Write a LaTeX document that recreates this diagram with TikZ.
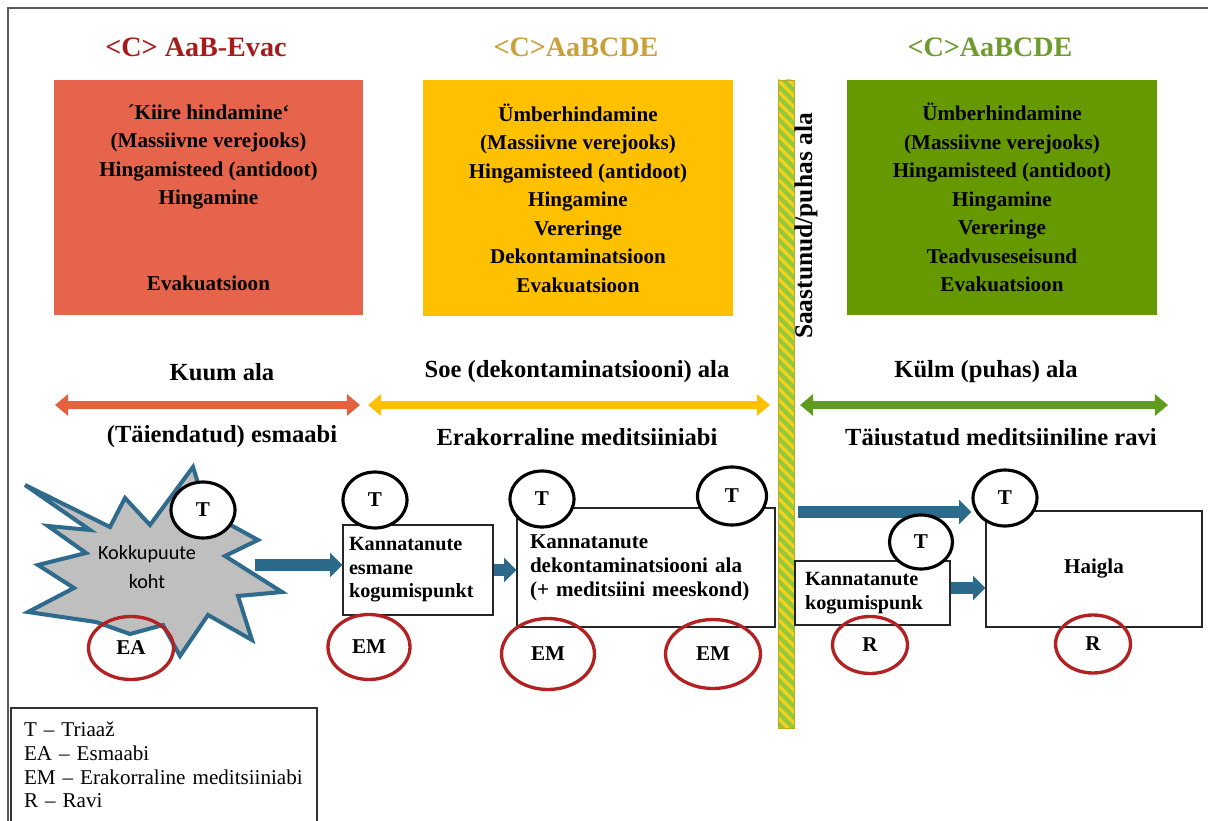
\documentclass[tikz,border=0pt]{standalone}
\usepackage{fontspec}
\setmainfont{Liberation Serif}
\newfontfamily\calibrikiri{Carlito}
\usetikzlibrary{arrows.meta,shapes.geometric,calc}

\definecolor{kuumkast}{HTML}{E6644B}
\definecolor{soekast}{HTML}{FFC000}
\definecolor{kulmkast}{HTML}{669900}
\definecolor{pealkpun}{HTML}{A61C1C}
\definecolor{pealkkol}{HTML}{C9A03A}
\definecolor{pealkroh}{HTML}{6E9B2E}
\definecolor{noolpun}{HTML}{E5603F}
\definecolor{noolroh}{HTML}{5E9B1E}
\definecolor{sinine}{HTML}{2B6A8A}
\definecolor{hall}{HTML}{BFBFBF}
\definecolor{plahvjoon}{HTML}{2F6B8C}
\definecolor{tumepun}{HTML}{B22222}
\definecolor{ribaroh}{HTML}{92C83E}
\definecolor{ribakol}{HTML}{F2D21B}

\begin{document}
\begin{tikzpicture}[x=0.02cm,y=-0.02cm,
pealk/.style ={font=\fontsize{16}{19}\selectfont\bfseries},
kast/.style ={rectangle, minimum width=6.2cm, minimum height=4.72cm, inner sep=0pt, align=center, font=\fontsize{12}{16.2}\selectfont\bfseries},
zona/.style ={font=\fontsize{14}{17}\selectfont\bfseries},
zoonnool/.style ={line width=5pt, {Triangle[width=12pt,length=7.5pt]}-{Triangle[width=12pt,length=7.5pt]}},
punkt/.style ={rectangle, draw=black!85, line width=0.8pt, fill=white, align=left, font=\fontsize{12}{13.6}\selectfont\bfseries},
triaaz/.style ={ellipse, draw=black, line width=1.8pt, fill=white, minimum width=1.28cm, minimum height=1.12cm, inner sep=0pt, font=\fontsize{12}{14}\selectfont\bfseries},
abi/.style ={ellipse, draw=tumepun, line width=1.9pt, inner sep=0pt, font=\fontsize{12}{14}\selectfont\bfseries},
vool/.style ={sinine, line width=6.8pt, -{Triangle[width=13.6pt,length=7pt]}},
legend/.style ={rectangle, draw=black!80, line width=0.8pt, minimum height=2.28cm, text width=5.6cm, inner xsep=0.26cm, align=left, font=\fontsize{12}{13.4}\selectfont}
]
\useasboundingbox (0,0) rectangle (1208,821);
\draw[black!65, line width=1.2pt] (8,821) -- (8,8) -- (1208,8);

% pealkirjad ja kastid
\draw (196,47) node[pealk, text=pealkpun] (p1) {<C> AaB-Evac};
\draw (576,47) node[pealk, text=pealkkol] (p2) {<C>AaBCDE};
\draw (990,47) node[pealk, text=pealkroh] (p3) {<C>AaBCDE};

\draw (208.5,197.5) node[kast, fill=kuumkast] (K1) {´Kiire hindamine\symbol{96}\\(Massiivne verejooks)\\Hingamisteed (antidoot)\\Hingamine\\ ~\\ ~\\Evakuatsioon};
\draw (578,198) node[kast, fill=soekast] (K2) {Ümberhindamine\\(Massiivne verejooks)\\Hingamisteed (antidoot)\\Hingamine\\Vereringe\\Dekontaminatsioon\\Evakuatsioon};
\draw (1002,197.5) node[kast, fill=kulmkast] (K3) {Ümberhindamine\\(Massiivne verejooks)\\Hingamisteed (antidoot)\\Hingamine\\Vereringe\\Teadvuseseisund\\Evakuatsioon};

% eraldusriba
\begin{scope}
\clip (778,80) rectangle (794,728);
\fill[ribaroh] (778,80) rectangle (794,728);
\foreach \y in {50,61,...,740}
  \draw[ribakol, line width=2pt] (770,\y) -- (802,\y+32);
\end{scope}
\draw[ribakol!80!black, line width=0.4pt] (778,80) rectangle (794,728);
\draw (806,226) node[zona, rotate=90, font=\fontsize{14.5}{17}\selectfont\bfseries] (riba) {Saastunud/puhas ala};

% alad
\draw (222,372) node[zona] (a1) {Kuum ala};
\draw (577,372) node[zona] (a2) {Soe (dekontaminatsiooni) ala};
\draw (986,372) node[zona] (a3) {Külm (puhas) ala};
\coordinate (a1L) at (55,405);  \coordinate (a1R) at (360,405);
\coordinate (a2L) at (368,405); \coordinate (a2R) at (770,405);
\coordinate (a3L) at (800,405); \coordinate (a3R) at (1168,405);
\draw[zoonnool, noolpun] (a1L)--(a1R);
\draw[zoonnool, soekast] (a2L)--(a2R);
\draw[zoonnool, noolroh] (a3L)--(a3R);
\draw (222,437) node[zona] (b1) {(Täiendatud) esmaabi};
\draw (577,437) node[zona] (b2) {Erakorraline meditsiiniabi};
\draw (1001,437) node[zona] (b3) {Täiustatud meditsiiniline ravi};

% kokkupuute koht
\draw[fill=hall, draw=plahvjoon, line width=2.3pt] (25,485) -- (110,527) -- (125,498) -- (150,525) -- (193,467) -- (207,512) -- (258,540) -- (225,556) -- (282,592) -- (238,596) -- (252,640) -- (208,615) -- (180,656) -- (163,625) -- (130,634) -- (96,622) -- (28,612) -- (74,588) -- (38,565) -- (86,553) -- (48,526) -- (90,530) -- cycle;
\draw (147,567) node[font=\calibrikiri\fontsize{11.5}{16.5}\selectfont, align=center, text=black] (koht) {Kokkupuute\\koht};
\coordinate (kohtE) at (255,565);

% punktid
\draw (418,570) node[punkt, minimum width=3cm, minimum height=1.8cm, text width=2.76cm, inner xsep=0.12cm, font=\fontsize{11.5}{13.4}\selectfont\bfseries] (kog1) {Kannatanute\\esmane\\kogumispunkt};
\draw (646,567.5) node[punkt, minimum height=2.38cm, text width=4.64cm, inner xsep=0.26cm] (dekon) {Kannatanute\\dekontaminatsiooni ala\\(+ meditsiini meeskond)};
\draw (872.5,593) node[punkt, minimum height=1.28cm, text width=2.7cm, inner xsep=0.2cm, font=\fontsize{11.5}{14}\selectfont\bfseries] (kog2) {Kannatanute\\kogumispunk};
\draw (1094,569) node[punkt, minimum width=4.32cm, minimum height=2.32cm, align=center] (haigla) {Haigla};

% triaaz
\draw (203,510) node[triaaz] (T1) {T};
\draw (375,500) node[triaaz] (T2) {T};
\draw (542,499) node[triaaz] (T3) {T};
\draw (732,496) node[triaaz, minimum width=1.38cm, minimum height=1.16cm] (T4) {T};
\draw (1005,498) node[triaaz] (T5) {T};

% nooled
\coordinate (ribaE) at (798,512);
\draw[vool] (kohtE) -- (kohtE -| kog1.west);
\draw[vool] (kog1.east) -- (kog1.east -| dekon.west);
\draw[vool] (ribaE) -- (ribaE -| T5.west);
\draw[vool] ($(kog2.east)+(0,-5)$) -- ($(kog2.east -| haigla.west)+(0,-5)$);

\draw (921,542) node[triaaz, minimum width=1.26cm, minimum height=1.08cm] (T6) {T};

% abi
\draw (131,648) node[abi, minimum width=1.7cm, minimum height=1.26cm] (EA) {EA};
\draw (369,647) node[abi, minimum width=1.64cm, minimum height=1.3cm] (EM1) {EM};
\draw (548,654) node[abi, minimum width=1.86cm, minimum height=1.42cm] (EM2) {EM};
\draw (713,654) node[abi, minimum width=1.9cm, minimum height=1.38cm] (EM3) {EM};
\draw (870,645) node[abi, minimum width=1.5cm, minimum height=1.14cm] (R1) {R};
\draw (1093,644) node[abi, minimum width=1.5cm, minimum height=1.16cm] (R2) {R};

% legend
\draw (164,765) node[legend] (leg) {T – Triaaž\\EA – Esmaabi\\EM – Erakorraline meditsiiniabi\\R – Ravi};

\end{tikzpicture}
\end{document}
